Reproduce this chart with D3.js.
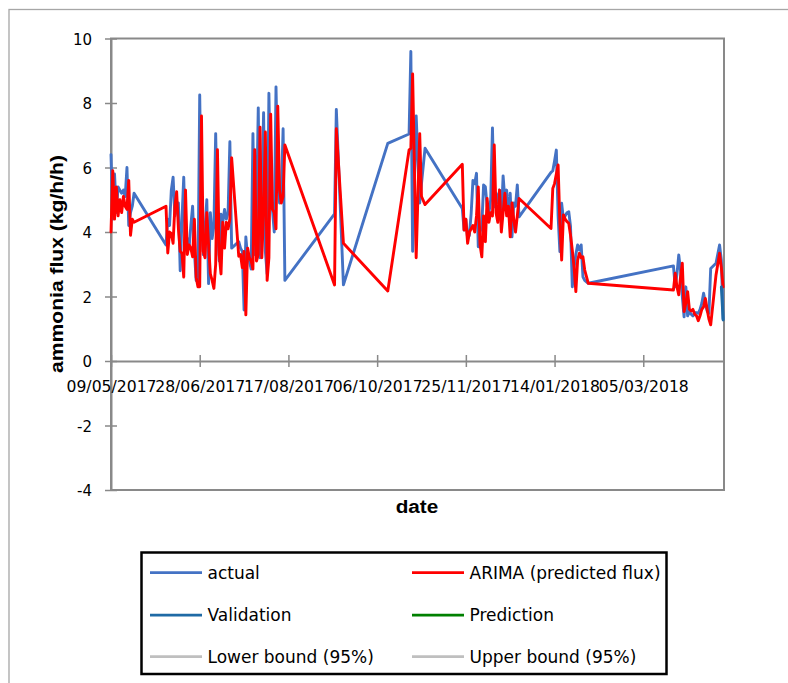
<!DOCTYPE html>
<html>
<head>
<meta charset="utf-8">
<script src="https://cdn.jsdelivr.net/npm/d3@7"></script>
<style>
  html, body { margin: 0; padding: 0; background: #ffffff; }
  svg { display: block; }
</style>
</head>
<body>
<svg id="chart" width="788" height="683"></svg>
<script>
// ---------------- DATA ----------------
const startDate = "09/05/2017";           // day 0 of the series
const axisEndDay = 345.5;                  // last day shown on the date axis

// days after the start date
const dayOffsets = [
  0,1,2,3,4,5,6,7,8,9,10,11,12,13,
  31,32,33,34,35,36,37,38,39,40,41,42,43,44,45,46,47,48,49,50,
  51,52,53,54,55,56,57,58,59,60,61,62,63,64,65,66,67,68,
  72,73,74,75,76,77,78,79,80,81,82,83,84,85,
  86,87,88,89,90,91,92,93,94,95,96,97,98,
  126,127,131,156,168,169,170,172,174,175,177,
  198,199,200,201,202,203,204,205,206,207,208,209,210,211,212,213,214,
  215,216,217,218,219,220,221,222,223,224,225,226,227,228,229,230,
  248,249,250,251,252,253,254,255,256,257,258,259,260,261,262,263,264,265,266,267,269,
  317,318,319,320,321,322,323,324,325,326,327,328,329,330,
  331,332,333,334,335,336,337,338,341,343,344,345
];
// actual ammonia flux (kg/h/h)
const actualFlux = [
  6.4,4.4,5.8,4.6,5.4,5.3,5.2,5.3,5.1,6.0,4.2,4.6,4.8,5.2,
  3.6,4.4,4.2,5.3,5.7,4.5,4.7,4.9,2.8,4.4,5.7,3.5,3.8,3.5,4.2,4.8,3.4,2.5,2.45,8.25,
  4.3,3.3,4.1,5.0,2.4,4.6,3.8,4.2,7.05,4.2,3.1,4.55,4.3,4.7,4.4,4.6,6.8,3.5,
  3.7,3.5,3.4,1.58,3.85,3.2,3.1,2.85,7.05,3.3,4.5,7.85,3.2,5.0,
  7.7,3.4,2.7,8.3,5.2,4.7,4.0,8.5,5.8,4.9,5.2,7.2,2.5,
  4.56,7.8,2.36,6.75,7.04,9.6,3.4,7.6,4.9,5.5,6.6,
  4.73,4.06,4.4,3.8,3.9,4.58,5.6,5.5,5.82,3.54,4.0,4.2,5.46,5.4,4.8,4.58,5.0,
  7.23,4.78,5.2,4.9,5.3,4.4,5.74,5.0,5.3,4.5,5.2,3.85,4.9,4.8,5.46,4.47,
  5.85,5.9,6.2,6.54,4.5,3.39,4.89,4.4,4.5,4.6,4.63,4.17,2.3,2.9,3.3,3.6,3.44,3.6,2.61,2.5,2.41,
  2.95,2.3,2.7,3.29,2.8,2.0,1.37,2.3,1.4,1.53,1.45,1.4,1.5,1.5,
  1.48,1.6,1.79,2.1,1.8,1.55,1.48,2.87,3.03,3.6,3.13,1.3
];
// ARIMA predicted flux
const arimaFlux = [
  4.0,5.9,4.4,5.4,4.5,5.0,4.6,5.1,4.8,4.7,5.6,3.9,4.4,4.3,
  4.8,3.35,4.0,3.95,3.65,4.8,5.25,4.1,3.4,3.34,2.6,5.3,3.3,3.6,3.5,3.23,4.4,2.6,2.3,2.3,
  7.6,3.4,3.2,4.6,3.6,2.7,2.5,2.25,3.0,6.55,3.3,2.7,4.3,3.5,4.3,4.1,4.4,6.3,
  3.25,3.3,2.9,3.4,1.43,3.5,3.2,3.1,2.85,6.55,3.1,3.3,7.25,3.2,
  4.6,7.1,2.5,3.2,7.65,4.7,4.6,4.1,7.9,5.3,4.9,5.1,6.7,
  2.36,7.2,3.65,2.17,6.54,6.6,8.9,3.2,7.05,5.1,4.85,
  6.1,4.06,4.4,3.65,4.0,4.1,4.2,4.0,4.5,5.4,3.6,3.23,4.5,3.7,5.04,4.3,4.6,
  4.5,6.7,4.6,4.3,5.3,4.0,4.6,5.2,4.5,4.8,3.85,4.9,4.4,4.0,4.5,5.04,
  4.11,5.35,5.5,5.8,6.08,4.27,3.13,4.53,4.4,4.32,4.27,3.9,3.44,2.9,2.15,3.13,3.34,3.2,3.23,2.82,2.41,
  2.2,2.72,2.3,2.05,2.6,3.03,1.53,1.8,2.15,1.6,1.55,1.6,1.45,1.4,
  1.25,1.4,1.6,1.68,1.94,1.6,1.3,1.12,2.67,3.34,2.9,2.3
];
const validationDays = [344, 345];
const validationFlux = [2.3, 1.27];
const predictionDays = [];
const predictionFlux = [];
const lowerBoundDays = [];
const lowerBoundFlux = [];
const upperBoundDays = [];
const upperBoundFlux = [];

const xTickLabels = ["09/05/2017","28/06/2017","17/08/2017","06/10/2017","25/11/2017","14/01/2018","05/03/2018"];
const yTicks = [-4, -2, 0, 2, 4, 6, 8, 10];
const seriesNames = ["actual", "ARIMA (predicted flux)", "Validation", "Prediction", "Lower bound (95%)", "Upper bound (95%)"];
const seriesColors = ["#4472C4", "#FF0000", "#1F6AA5", "#008000", "#BFBFBF", "#BFBFBF"];
const yTitle = "ammonia flux (kg/h/h)";
const xTitle = "date";

// ---------------- CHART ----------------
const svg = d3.select("#chart");
const parse = d3.utcParse("%d/%m/%Y");
const fmt = d3.utcFormat("%d/%m/%Y");
const t0 = parse(startDate);
const toDate = d => new Date(t0.getTime() + d * 864e5);

const x = d3.scaleUtc().domain([t0, toDate(axisEndDay)]).range([111, 724]);
const y = d3.scaleLinear().domain([-4, 10]).range([490, 38.5]);

const axisGray = "#898989";

// outer chart frame (extends beyond the window on right / bottom)
svg.append("rect")
  .attr("x", 9).attr("y", 9.5).attr("width", 900).attr("height", 800)
  .attr("fill", "none").attr("stroke", "#a6a6a6").attr("stroke-width", 1.3);

// plot area frame
svg.append("rect")
  .attr("x", x.range()[0]).attr("y", y(10))
  .attr("width", x.range()[1] - x.range()[0]).attr("height", y(-4) - y(10))
  .attr("fill", "none").attr("stroke", axisGray).attr("stroke-width", 2);

// y axis
const yAxis = d3.axisLeft(y).tickValues(yTicks).tickFormat(d => String(d)).tickSizeInner(6).tickSizeOuter(0);
const gy = svg.append("g").attr("transform", `translate(${x.range()[0]},0)`).call(yAxis);
gy.select(".domain").attr("stroke", axisGray).attr("stroke-width", 2);
gy.selectAll(".tick line").attr("x1", 6).attr("x2", -6).attr("stroke", axisGray).attr("stroke-width", 1.5);
gy.selectAll(".tick text")
  .attr("x", -19).attr("y", 5.5).attr("dy", null)
  .attr("font-family", "DejaVu Sans").attr("font-size", 15).attr("fill", "#000");

// x axis at y = 0
const xAxis = d3.axisBottom(x).tickValues(xTickLabels.map(parse)).tickFormat(fmt).tickSizeInner(6).tickSizeOuter(0);
const gx = svg.append("g").attr("transform", `translate(0,${y(0)})`).call(xAxis);
gx.select(".domain").attr("stroke", axisGray).attr("stroke-width", 2);
gx.selectAll(".tick line").attr("y1", -6).attr("y2", 6).attr("stroke", axisGray).attr("stroke-width", 1.5);
gx.selectAll(".tick text")
  .attr("y", 30.5).attr("dy", null)
  .attr("font-family", "DejaVu Sans").attr("font-size", 15.5)
  .attr("textLength", 90).attr("lengthAdjust", "spacingAndGlyphs")
  .attr("fill", "#000");

// series
const line = d3.line().x(d => x(toDate(d[0]))).y(d => y(d[1]));
const zip = (a, b) => a.map((d, i) => [d, b[i]]);
const series = [
  { data: zip(lowerBoundDays, lowerBoundFlux), color: seriesColors[4] },
  { data: zip(upperBoundDays, upperBoundFlux), color: seriesColors[5] },
  { data: zip(dayOffsets, actualFlux), color: seriesColors[0] },
  { data: zip(dayOffsets, arimaFlux), color: seriesColors[1] },
  { data: zip(validationDays, validationFlux), color: seriesColors[2] },
  { data: zip(predictionDays, predictionFlux), color: seriesColors[3] }
];
svg.append("g").selectAll("path").data(series.filter(s => s.data.length)).join("path")
  .attr("d", s => line(s.data))
  .attr("fill", "none")
  .attr("stroke", s => s.color)
  .attr("stroke-width", 2.9)
  .attr("stroke-linejoin", "round")
  .attr("stroke-linecap", "round");

// axis titles
svg.append("text")
  .attr("transform", "translate(63,264) rotate(-90)")
  .attr("text-anchor", "middle")
  .attr("font-family", "Liberation Sans, Arial, sans-serif").attr("font-weight", "bold")
  .attr("font-size", 18).attr("textLength", 218).attr("lengthAdjust", "spacingAndGlyphs")
  .attr("fill", "#000").text(yTitle);

svg.append("text")
  .attr("x", 417).attr("y", 513.3)
  .attr("text-anchor", "middle")
  .attr("font-family", "Liberation Sans, Arial, sans-serif").attr("font-weight", "bold")
  .attr("font-size", 17.5).attr("textLength", 42.6).attr("lengthAdjust", "spacingAndGlyphs")
  .attr("fill", "#000").text(xTitle);

// legend
const lg = svg.append("g");
lg.append("rect")
  .attr("x", 141.5).attr("y", 552.5).attr("width", 525).attr("height", 121.5)
  .attr("fill", "#fff").attr("stroke", "#000").attr("stroke-width", 2.5);
const colX = [150, 412];
const rowY = [572.7, 615, 656.7];
seriesNames.forEach((name, i) => {
  const cx = colX[i % 2], cy = rowY[Math.floor(i / 2)];
  lg.append("line")
    .attr("x1", cx).attr("x2", cx + 52).attr("y1", cy).attr("y2", cy)
    .attr("stroke", seriesColors[i]).attr("stroke-width", 2.75);
  lg.append("text")
    .attr("x", cx + 57.5).attr("y", cy + 6.3)
    .attr("font-family", "DejaVu Sans").attr("font-size", 17)
    .attr("fill", "#000").text(name);
});
</script>
</body>
</html>
